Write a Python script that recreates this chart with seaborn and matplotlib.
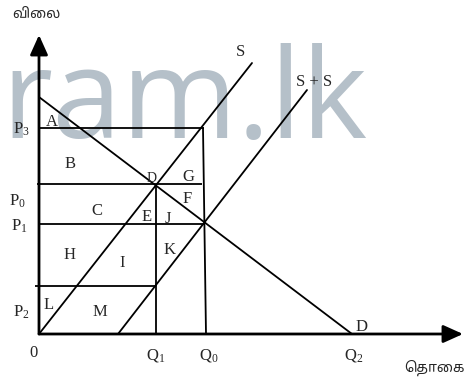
import matplotlib
matplotlib.use("Agg")
import matplotlib.pyplot as plt
import seaborn as sns
import pandas as pd

# curve end points (quantity, price) in chart units
demand_q = [0, 313]
demand_p = [237, 0]
supply_q = [0, 213]
supply_p = [0, 271]
supply2_q = [79, 268]
supply2_p = [0, 244]

# marked levels
Q1, Q0, Q2 = 117, 165, 313
P2, P1, P0, P3 = 48, 110, 150, 206

area_labels = ["A", "B", "D", "G", "C", "E", "F", "J", "H", "I", "K", "L", "M"]
area_x = [13, 31, 113, 149, 58, 108, 148, 129, 31, 83, 131, 10, 61]
area_y = [212, 170, 156, 157, 123, 117, 135, 115, 79, 71, 84, 29, 22]

# axis titles (Tamil, written in visual glyph order since matplotlib does no shaping)
price_title = "வி\u0bc8ல"          # விலை
qty_title = "\u0bc6த\u0bbe\u0bc8க"   # தொகை

sns.set_theme(style="white")
plt.rcParams["font.family"] = ["Liberation Serif", "DejaVu Sans"]
plt.rcParams["mathtext.fontset"] = "custom"
plt.rcParams["mathtext.rm"] = "Liberation Serif"
plt.rcParams["mathtext.it"] = "Liberation Serif"

fig = plt.figure(figsize=(4.74, 3.81), dpi=100)
ax = fig.add_axes([0, 0, 1, 1])
ax.set_xlim(-39, 435)
ax.set_ylim(-47, 334)
ax.axis("off")

# watermark
ax.text(-38, 196, "ram.lk", fontsize=90, color="#b5c0c9", family="Open Sans",
        ha="left", va="baseline", zorder=0)

lines = pd.concat([
    pd.DataFrame({"q": demand_q, "p": demand_p, "curve": "D"}),
    pd.DataFrame({"q": supply_q, "p": supply_p, "curve": "S"}),
    pd.DataFrame({"q": supply2_q, "p": supply2_p, "curve": "S+S"}),
])
sns.lineplot(data=lines, x="q", y="p", units="curve", estimator=None, color="black",
             lw=1.3, sort=False, ax=ax, zorder=3)

# guide lines
ax.hlines(P3, 0, Q0, color="black", lw=1.3, zorder=3)
ax.hlines(P0, -2, Q0 - 2, color="black", lw=1.3, zorder=3)
ax.hlines(P1, 0, Q0, color="black", lw=1.3, zorder=3)
ax.hlines(P2, -4, Q1, color="black", lw=1.3, zorder=3)
ax.plot([Q0 - 1, Q0 + 2], [P3, 0], color="black", lw=1.3, zorder=3)
ax.vlines(Q1, 0, P0, color="black", lw=1.3, zorder=3)

# axes with arrows
ax.annotate("", xy=(0, 299), xytext=(0, 0),
            arrowprops=dict(arrowstyle="-|>,head_width=0.45,head_length=1.0",
                            color="black", lw=2, shrinkA=0, shrinkB=0), zorder=4)
ax.annotate("", xy=(424, 0), xytext=(0, 0),
            arrowprops=dict(arrowstyle="-|>,head_width=0.45,head_length=1.0",
                            color="black", lw=2, shrinkA=0, shrinkB=0), zorder=4)

fs = 12
for lab, x, y in zip(area_labels, area_x, area_y):
    ax.text(x, y, lab, fontsize=fs if lab != "D" else 10, ha="center", va="center", zorder=5)

ax.text(-18, 205, r"P$_3$", fontsize=fs, ha="center", va="center")
ax.text(-22, 133, r"P$_0$", fontsize=fs, ha="center", va="center")
ax.text(-20, 108, r"P$_1$", fontsize=fs, ha="center", va="center")
ax.text(-18, 22, r"P$_2$", fontsize=fs, ha="center", va="center")
ax.text(-6, -19, "0", fontsize=fs, ha="center", va="center")
ax.text(Q1, -21, r"Q$_1$", fontsize=fs, ha="center", va="center")
ax.text(Q0 + 5, -21, r"Q$_0$", fontsize=fs, ha="center", va="center")
ax.text(Q2 + 2, -21, r"Q$_2$", fontsize=fs, ha="center", va="center")
ax.text(Q2 + 10, 7, "D", fontsize=fs, ha="center", va="center")
ax.text(202, 282, "S", fontsize=fs, ha="center", va="center")
ax.text(275, 252, "S + S", fontsize=fs, ha="center", va="center")

tamil = ["Noto Sans Tamil", "Noto Sans", "DejaVu Sans"]
ax.text(-27, 320, price_title, fontsize=10, family=tamil, ha="left", va="center")
ax.text(365, -34, qty_title, fontsize=10, family=tamil, ha="left", va="center")

fig.savefig("out.png", dpi=100)
